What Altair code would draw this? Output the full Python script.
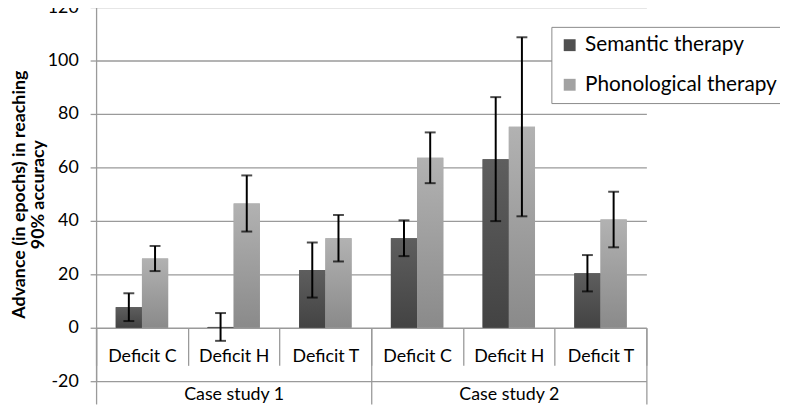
import altair as alt
import pandas as pd

# ---- data ----
cases = ["Case study 1", "Case study 1", "Case study 1",
         "Case study 2", "Case study 2", "Case study 2"]
deficits = ["Deficit C", "Deficit H", "Deficit T",
            "Deficit C", "Deficit H", "Deficit T"]
series = ["Semantic therapy", "Phonological therapy"]
sem = [7.7, 0.3, 21.6, 33.5, 63.1, 20.4]
sem_err = [5.2, 5.2, 10.3, 6.7, 23.2, 6.8]
pho = [25.9, 46.5, 33.5, 63.6, 75.2, 40.5]
pho_err = [4.7, 10.5, 8.7, 9.5, 33.5, 10.4]
y_ticks = [-20, 0, 20, 40, 60, 80, 100, 120]
case_order = ["Case study 1", "Case study 2"]

rows = []
for i in range(len(cases)):
    key = cases[i] + "|" + deficits[i]
    for s, v, e in ((series[0], sem[i], sem_err[i]), (series[1], pho[i], pho_err[i])):
        rows.append(dict(case=cases[i], deficit=deficits[i], key=key,
                         series=s, value=v, lo=v - e, hi=v + e))
df = pd.DataFrame(rows)
keys = list(dict.fromkeys(df["key"]))
case_df = pd.DataFrame({"case": case_order})

FONT = "Lato"
GRID = "#9a9a9a"

y_axis = alt.Axis(values=y_ticks, grid=True, gridColor=GRID, gridWidth=1.3,
                  domain=True, domainColor=GRID, domainWidth=1.3,
                  ticks=True, tickSize=6, tickColor=GRID, tickWidth=1.3,
                  labelPadding=12, labelFont=FONT, labelFontSize=18, labelColor="black",
                  labelExpr="datum.value < 0 ? '-' + abs(datum.value) : '' + datum.value",
                  title=["Advance (in epochs) in reaching", "90% accuracy"],
                  titleFont=FONT, titleFontSize=18, titleFontWeight="bold",
                  titleColor="black", titlePadding=0, titleLineHeight=19)
y_scale = alt.Scale(domain=[-20, 120], nice=False)

x_key = alt.X("key:N", sort=keys, title=None,
              scale=alt.Scale(paddingInner=0, paddingOuter=0),
              axis=alt.Axis(orient="bottom", offset=-54, domain=False, grid=False,
                            ticks=True, tickBand="extent", tickSize=38,
                            tickColor=GRID, tickWidth=1.3,
                            labelExpr="split(datum.label, '|')[1]",
                            labelFont=FONT, labelFontSize=18, labelColor="black",
                            labelAngle=0, labelBaseline="middle", labelPadding=-9))
x_off = alt.XOffset("series:N", sort=series,
                    scale=alt.Scale(paddingInner=0, paddingOuter=0.75))

grad_sem = {"gradient": "linear", "x1": 0, "y1": 0, "x2": 0, "y2": 1,
            "stops": [{"offset": 0, "color": "#5e5e5e"}, {"offset": 1, "color": "#434343"}]}
grad_pho = {"gradient": "linear", "x1": 0, "y1": 0, "x2": 0, "y2": 1,
            "stops": [{"offset": 0, "color": "#b2b2b2"}, {"offset": 1, "color": "#8a8a8a"}]}

base = alt.Chart(df)

bars_flat = base.mark_bar().encode(
    x=x_key, xOffset=x_off,
    y=alt.Y("value:Q", scale=y_scale, axis=y_axis),
    color=alt.Color("series:N", sort=series,
                    scale=alt.Scale(domain=series, range=["#505050", "#a2a2a2"]),
                    legend=alt.Legend(orient="none", legendX=460, legendY=20, title=None,
                                      symbolType="square", symbolSize=144,
                                      symbolStrokeWidth=0,
                                      labelFont=FONT, labelFontSize=21, labelColor="black",
                                      labelOffset=5, labelLimit=300,
                                      padding=8, rowPadding=18,
                                      strokeColor="#8a8a8a", fillColor="white")),
)

bars_grad = base.mark_bar().encode(
    x=x_key, xOffset=x_off,
    y=alt.Y("value:Q", scale=y_scale, axis=y_axis),
    color=alt.condition(alt.datum.series == series[0], alt.value(grad_sem), alt.value(grad_pho)),
)

err_rule = base.mark_rule(color="black", strokeWidth=2).encode(
    x=x_key, xOffset=x_off,
    y=alt.Y("lo:Q", scale=y_scale, axis=y_axis),
    y2="hi:Q",
)
cap_hi = base.mark_tick(color="black", size=11, thickness=2).encode(
    x=x_key, xOffset=x_off,
    y=alt.Y("hi:Q", scale=y_scale, axis=y_axis),
)
cap_lo = base.mark_tick(color="black", size=11, thickness=2).encode(
    x=x_key, xOffset=x_off,
    y=alt.Y("lo:Q", scale=y_scale, axis=y_axis),
)

inner = alt.layer(bars_flat, bars_grad, err_rule, cap_hi, cap_lo)

case_layer = alt.Chart(case_df).mark_rule(opacity=0).encode(
    x=alt.X("case:N", sort=case_order, title=None,
            scale=alt.Scale(paddingInner=0, paddingOuter=0),
            axis=alt.Axis(orient="bottom", offset=-54, domain=False, grid=False,
                          ticks=True, tickBand="extent", tickSize=77,
                          tickColor=GRID, tickWidth=1.3,
                          labelFont=FONT, labelFontSize=18, labelColor="black",
                          labelAngle=0, labelBaseline="middle", labelPadding=-10)),
)

chart = alt.layer(inner, case_layer).resolve_scale(x="independent").properties(
    width=556, height=378,
    autosize=alt.AutoSizeParams(type="none"),
    padding={"left": 89, "top": -3, "right": 135, "bottom": 23},
    background="white",
).configure_view(stroke=None)

chart.save("out.html", embed_options={"renderer": "svg", "actions": False})
